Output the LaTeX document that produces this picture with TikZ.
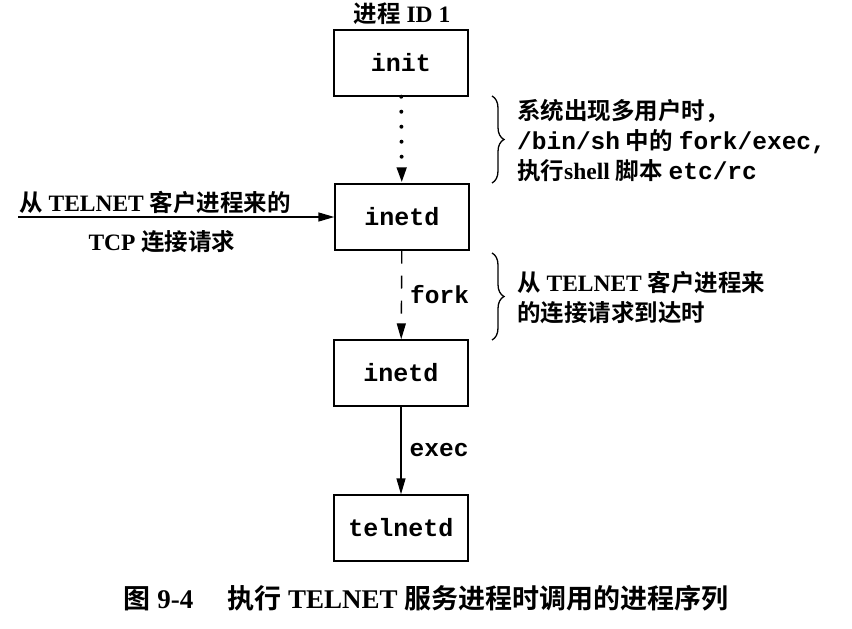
\documentclass[tikz,border=0pt]{standalone}
\usepackage{fontspec}
\setmainfont{Liberation Serif}
\setmonofont{Liberation Mono}
\newfontfamily\zh{Noto Sans CJK SC Bold}
\usetikzlibrary{arrows.meta,decorations.pathreplacing}
\newcommand\Z[1]{{\zh #1}}
\newcommand\R[1]{{\rmfamily\bfseries #1}}
\newcommand\T[1]{{\fontsize{24.5}{30}\selectfont\ttfamily\bfseries #1}}
\begin{document}
\begin{tikzpicture}[x=1pt,y=-1pt,
  proc/.style={draw, line width=1.4pt, minimum width=134pt, minimum height=66pt, inner sep=0pt,
    font=\fontsize{25}{28}\selectfont\ttfamily\bfseries},
  link/.style={line width=1.4pt, -{Triangle[length=16pt,width=9pt]}},
  dotlink/.style={link, line width=4pt, line cap=round, dash pattern=on 0pt off 15pt},
  dashlink/.style={link, dash pattern=on 13pt off 12pt},
  lbl/.style={inner sep=0pt, font=\fontsize{23.5}{27}\selectfont},
  edgelbl/.style={inner sep=0pt, right=8pt, font=\fontsize{24.5}{28}\selectfont\ttfamily\bfseries},
  note/.style={inner sep=0pt, anchor=west, align=left, font=\fontsize{23.5}{30}\selectfont},
  cbrace/.style={decorate, decoration={brace, amplitude=12pt}, line width=1.3pt}]
\useasboundingbox (0,0) rectangle (852,629);

\node[proc] (init) at (401,63) {init};
\node[proc] (inetdA) at (402,217) {inetd};
\node[proc] (inetdB) at (401,373) {inetd};
\node[proc] (telnetd) at (401,528) {telnetd};

\node[lbl] (pid) at (402,14) {\Z{进程} \R{ID 1}};

\draw[dotlink] (init) -- (inetdA);
\draw[dashlink] (inetdA) -- node[edgelbl] (forklbl) {fork} (inetdB);
\draw[link] (inetdB) -- node[edgelbl] (execlbl) {exec} (telnetd);

\coordinate (src) at (18,217);
\draw[link] (src) -- (inetdA.west);
\node[lbl] (srcA) at (155,203) {\Z{从} \R{TELNET} \Z{客户进程来的}};
\node[lbl] (srcB) at (162,242) {\R{TCP} \Z{连接请求}};

\coordinate (bA1) at (492,96);
\coordinate (bA2) at (492,183);
\draw[cbrace] (bA1) -- (bA2);
\node[note] (noteA) at (517,141) {\Z{系统出现多用户时，}\\
  \T{/bin/sh} \Z{中的} \T{fork/exec,}\\
  \Z{执行}\R{shell} \Z{脚本} \T{etc/rc}};

\coordinate (bB1) at (492,253);
\coordinate (bB2) at (492,340);
\draw[cbrace] (bB1) -- (bB2);
\node[note] (noteB) at (517,298) {\Z{从} \R{TELNET} \Z{客户进程来}\\ \Z{的连接请求到达时}};

\node[inner sep=0pt, font=\fontsize{27}{31}\selectfont] (cap) at (426,598)
  {\Z{图} \R{9-4}\hspace{34pt}\Z{执行} \R{TELNET} \Z{服务进程时调用的进程序列}};
\end{tikzpicture}
\end{document}
